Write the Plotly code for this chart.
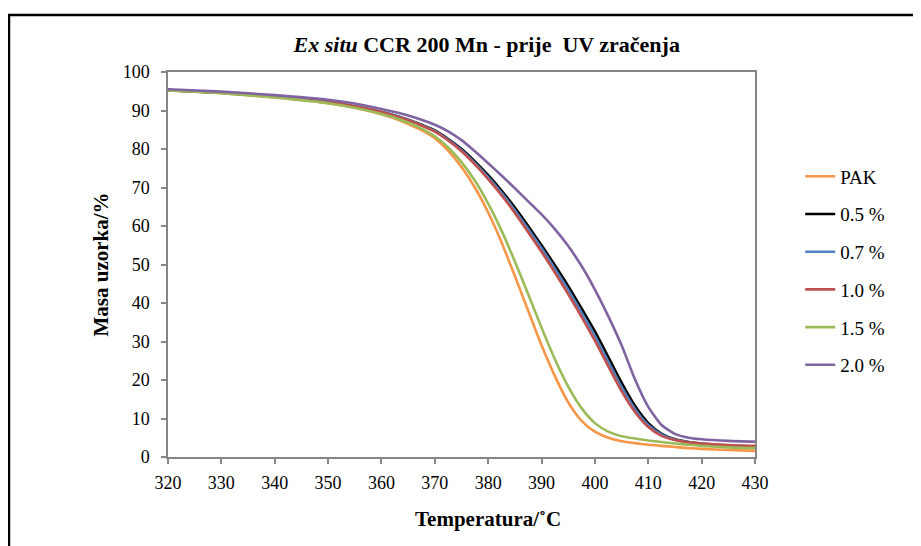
import plotly.graph_objects as go

# temperature grid (deg C) and sample mass (%)
temperature = [320, 330, 340, 350, 355, 360, 362.5, 365, 367.5, 370,
               372.5, 375, 377.5, 380, 382.5, 385, 387.5, 390, 392.5, 395,
               397.5, 400, 402.5, 405, 407.5, 410, 412.5, 415, 417.5, 420,
               425, 430]

pak = [95.2, 94.5, 93.4, 91.9, 90.7, 89.0, 87.9, 86.5, 84.9, 82.8,
       79.6, 75.3, 70.0, 63.5, 55.8, 47.0, 38.0, 29.0, 21.0, 14.2,
       9.4, 6.6, 5.0, 4.1, 3.6, 3.2, 2.9, 2.6, 2.3, 2.1,
       1.8, 1.6]
mn_05 = [95.3, 94.6, 93.6, 92.2, 91.1, 89.6, 88.7, 87.6, 86.3, 84.8,
         82.6, 80.0, 76.8, 73.2, 69.2, 64.8, 60.0, 55.0, 49.8, 44.4,
         38.6, 32.6, 26.0, 19.3, 13.3, 8.8, 6.0, 4.6, 3.9, 3.4,
         2.9, 2.7]
mn_07 = [95.3, 94.6, 93.6, 92.2, 91.1, 89.6, 88.7, 87.6, 86.2, 84.7,
         82.4, 79.7, 76.4, 72.7, 68.6, 64.1, 59.2, 54.2, 48.9, 43.4,
         37.5, 31.4, 24.8, 18.2, 12.5, 8.3, 5.8, 4.5, 3.9, 3.5,
         3.0, 2.8]
mn_10 = [95.3, 94.6, 93.6, 92.2, 91.1, 89.6, 88.6, 87.5, 86.1, 84.5,
         82.2, 79.4, 76.0, 72.2, 68.0, 63.4, 58.4, 53.3, 47.9, 42.3,
         36.4, 30.2, 23.6, 17.1, 11.7, 7.8, 5.5, 4.4, 3.8, 3.5,
         3.1, 2.9]
mn_15 = [95.2, 94.5, 93.4, 91.9, 90.7, 89.1, 88.1, 86.8, 85.3, 83.3,
         80.4, 76.6, 71.8, 65.8, 58.8, 50.8, 42.3, 33.6, 25.4, 18.3,
         12.7, 8.8, 6.6, 5.4, 4.8, 4.3, 3.9, 3.5, 3.2, 2.9,
         2.5, 2.3]
mn_20 = [95.5, 94.9, 94.0, 92.8, 91.8, 90.4, 89.6, 88.7, 87.6, 86.3,
         84.6, 82.3, 79.4, 76.3, 73.1, 69.8, 66.4, 63.0, 59.2, 54.8,
         49.6, 43.5, 36.6, 29.0, 20.2, 13.0, 8.3, 6.0, 5.0, 4.6,
         4.2, 4.0]

series_names = ["PAK", "0.5 %", "0.7 %", "1.0 %", "1.5 %", "2.0 %"]
series_values = [pak, mn_05, mn_07, mn_10, mn_15, mn_20]
colors = ["#F79646", "#000000", "#4F81BD", "#C0504D", "#9BBB59", "#8064A2"]

serif = "Liberation Serif, Times New Roman, serif"

fig = go.Figure()

for name, values, color in zip(series_names, series_values, colors):
    fig.add_trace(go.Scatter(
        x=temperature,
        y=values,
        name=name,
        legendgroup=name,
        mode="lines",
        line=dict(color=color, width=2.6, shape="spline", smoothing=0.6)
    ))

axis_style = dict(
    showgrid=False,
    zeroline=False,
    showline=True,
    linecolor="#868686",
    linewidth=1.5,
    mirror=True,
    ticks="outside",
    ticklen=5,
    tickcolor="#868686",
    tickwidth=1.5,
    tickfont=dict(family=serif, size=18, color="black"),
    dtick=10
)

fig.update_xaxes(range=[320, 430], ticklabelstandoff=4, **axis_style)
fig.update_yaxes(range=[0, 100], ticklabelstandoff=8, **axis_style)

fig.update_layout(
    width=913,
    height=538,
    plot_bgcolor="white",
    paper_bgcolor="white",
    margin=dict(l=160, r=166, t=64, b=89),
    title=dict(
        text="<b><i>Ex situ</i> CCR 200 Mn - prije  UV zračenja</b>",
        font=dict(family=serif, size=22, color="black"),
        x=0.543, xref="paper", xanchor="center",
        y=0.933, yref="container", yanchor="middle"
    ),
    legend=dict(
        x=1.077, xanchor="left",
        y=0.778, yanchor="top",
        font=dict(family=serif, size=19, color="black"),
        tracegroupgap=10,
        bgcolor="rgba(0,0,0,0)"
    ),
    annotations=[
        dict(text="<b>Temperatura/˚C</b>", xref="paper", yref="paper",
             x=0.545, y=-0.161, xanchor="center", yanchor="middle",
             showarrow=False, font=dict(family=serif, size=21, color="black")),
        dict(text="<b>Masa uzorka/%</b>", xref="paper", yref="paper",
             x=-0.1158, y=0.5, xanchor="center", yanchor="middle",
             textangle=-90, showarrow=False,
             font=dict(family=serif, size=21, color="black"))
    ],
    shapes=[
        dict(type="rect", xref="paper", yref="paper",
             x0=-0.2709, x1=1.30, y0=-0.27, y1=1.148,
             line=dict(color="black", width=2.5))
    ]
)

fig.write_html("out.html")
